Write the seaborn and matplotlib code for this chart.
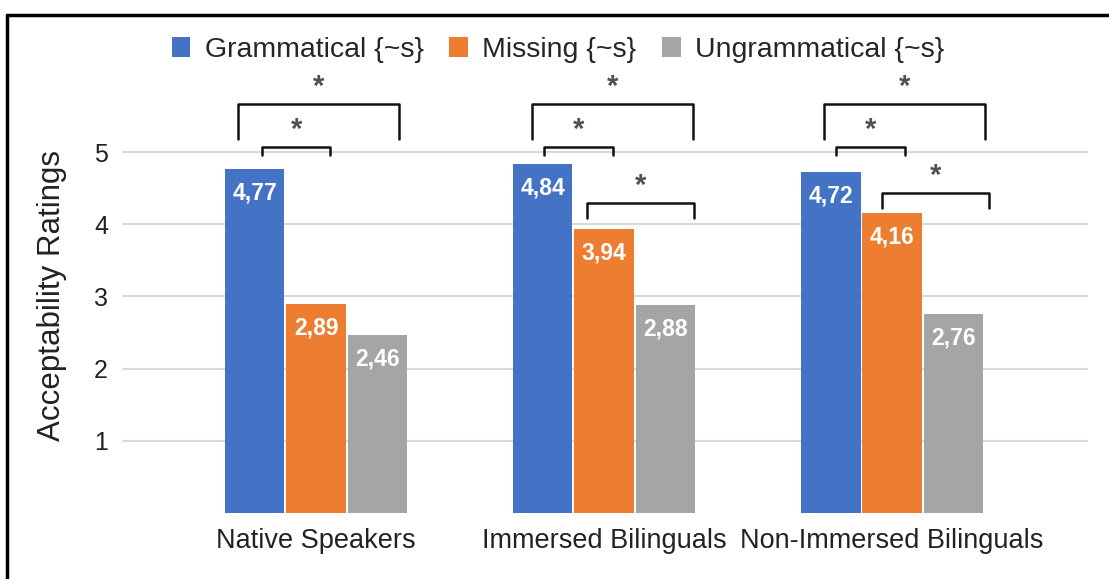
import matplotlib
matplotlib.use('Agg')
import matplotlib.pyplot as plt
import seaborn as sns
import pandas as pd
from matplotlib.lines import Line2D

# chart values
groups = ['Native Speakers', 'Immersed Bilinguals', 'Non-Immersed Bilinguals']
conditions = ['Grammatical {~s}', 'Missing {~s}', 'Ungrammatical {~s}']
grammatical = [4.77, 4.84, 4.72]
missing = [2.89, 3.94, 4.16]
ungrammatical = [2.46, 2.88, 2.76]
colors = ['#4472C4', '#ED7D31', '#A5A5A5']

# significance brackets: (group index, left offset, right offset, top, drop)
brackets = [
    (0, -0.271, 0.288, 5.66, 0.48), (0, -0.188, 0.049, 5.07, 0.11),
    (1, -0.250, 0.309, 5.66, 0.48), (1, -0.208, 0.031, 5.07, 0.11),
    (1, -0.059, 0.312, 4.29, 0.20),
    (2, -0.236, 0.323, 5.66, 0.48), (2, -0.194, 0.045, 5.07, 0.11),
    (2, -0.035, 0.337, 4.43, 0.21),
]

df = pd.DataFrame({
    'group': groups * 3,
    'condition': [c for c in conditions for _ in groups],
    'rating': grammatical + missing + ungrammatical,
})

sns.set_style('white')
plt.rcParams['font.family'] = ['Liberation Sans', 'DejaVu Sans']

fig = plt.figure(figsize=(11.09, 5.79), dpi=100)
ax = fig.add_axes([122 / 1109, 1 - 513 / 579, 966 / 1109, 447.6 / 579])

sns.barplot(data=df, x='group', y='rating', hue='condition', order=groups,
            hue_order=conditions, palette=colors, saturation=1, width=0.64,
            gap=0.03, linewidth=0, ax=ax)

ax.set_xlim(-0.674, 2.68)
ax.set_ylim(0, 6.2)
ax.set_yticks([1, 2, 3, 4, 5])
ax.grid(axis='y', color='#D9D9D9', linewidth=1.5)
ax.set_axisbelow(True)
for s in ax.spines.values():
    s.set_visible(False)
ax.tick_params(axis='y', length=0, pad=10, labelsize=18, labelcolor='#222222')
ax.tick_params(axis='x', length=0, pad=11, labelsize=19.5, labelcolor='#222222')
ax.set_xlabel('')
ax.set_ylabel('Acceptability Ratings', fontsize=22.5, color='#222222')
ax.yaxis.set_label_coords(-0.057, 0.485)

# value labels inside the bar tops
for container, vals in zip(ax.containers, [grammatical, missing, ungrammatical]):
    for bar, v in zip(container, vals):
        ax.annotate(f'{v:.2f}'.replace('.', ','),
                    (bar.get_x() + bar.get_width() / 2, bar.get_height()),
                    xytext=(0, -9), textcoords='offset points',
                    ha='center', va='top', color='white',
                    fontsize=16.5, fontweight='bold')

# significance brackets
for g, x0, x1, top, drop in brackets:
    xa, xb = g + x0, g + x1
    ax.plot([xa, xa, xb, xb], [top - drop, top, top, top - drop],
            color='#111111', lw=1.8, clip_on=False, solid_joinstyle='round')
    ax.text((xa + xb) / 2, top + 0.24, '*', ha='center', va='center',
            fontsize=21, fontweight='bold', color='#505050', clip_on=False)

sns.move_legend(ax, 'center', bbox_to_anchor=(558 / 1109, 1 - 50 / 579),
                bbox_transform=fig.transFigure, ncol=3, frameon=False,
                title=None, fontsize=20.5, handlelength=0.66, handleheight=0.66,
                handletextpad=0.5, columnspacing=0.9)

# frame lines of the original figure
fig.add_artist(Line2D([7 / 1109, 7 / 1109], [0, 1 - 14.5 / 579],
                      transform=fig.transFigure, color='black', lw=2.5))
fig.add_artist(Line2D([7 / 1109, 1], [1 - 14.5 / 579, 1 - 14.5 / 579],
                      transform=fig.transFigure, color='black', lw=2.5))

fig.savefig('out.png', dpi=100)
